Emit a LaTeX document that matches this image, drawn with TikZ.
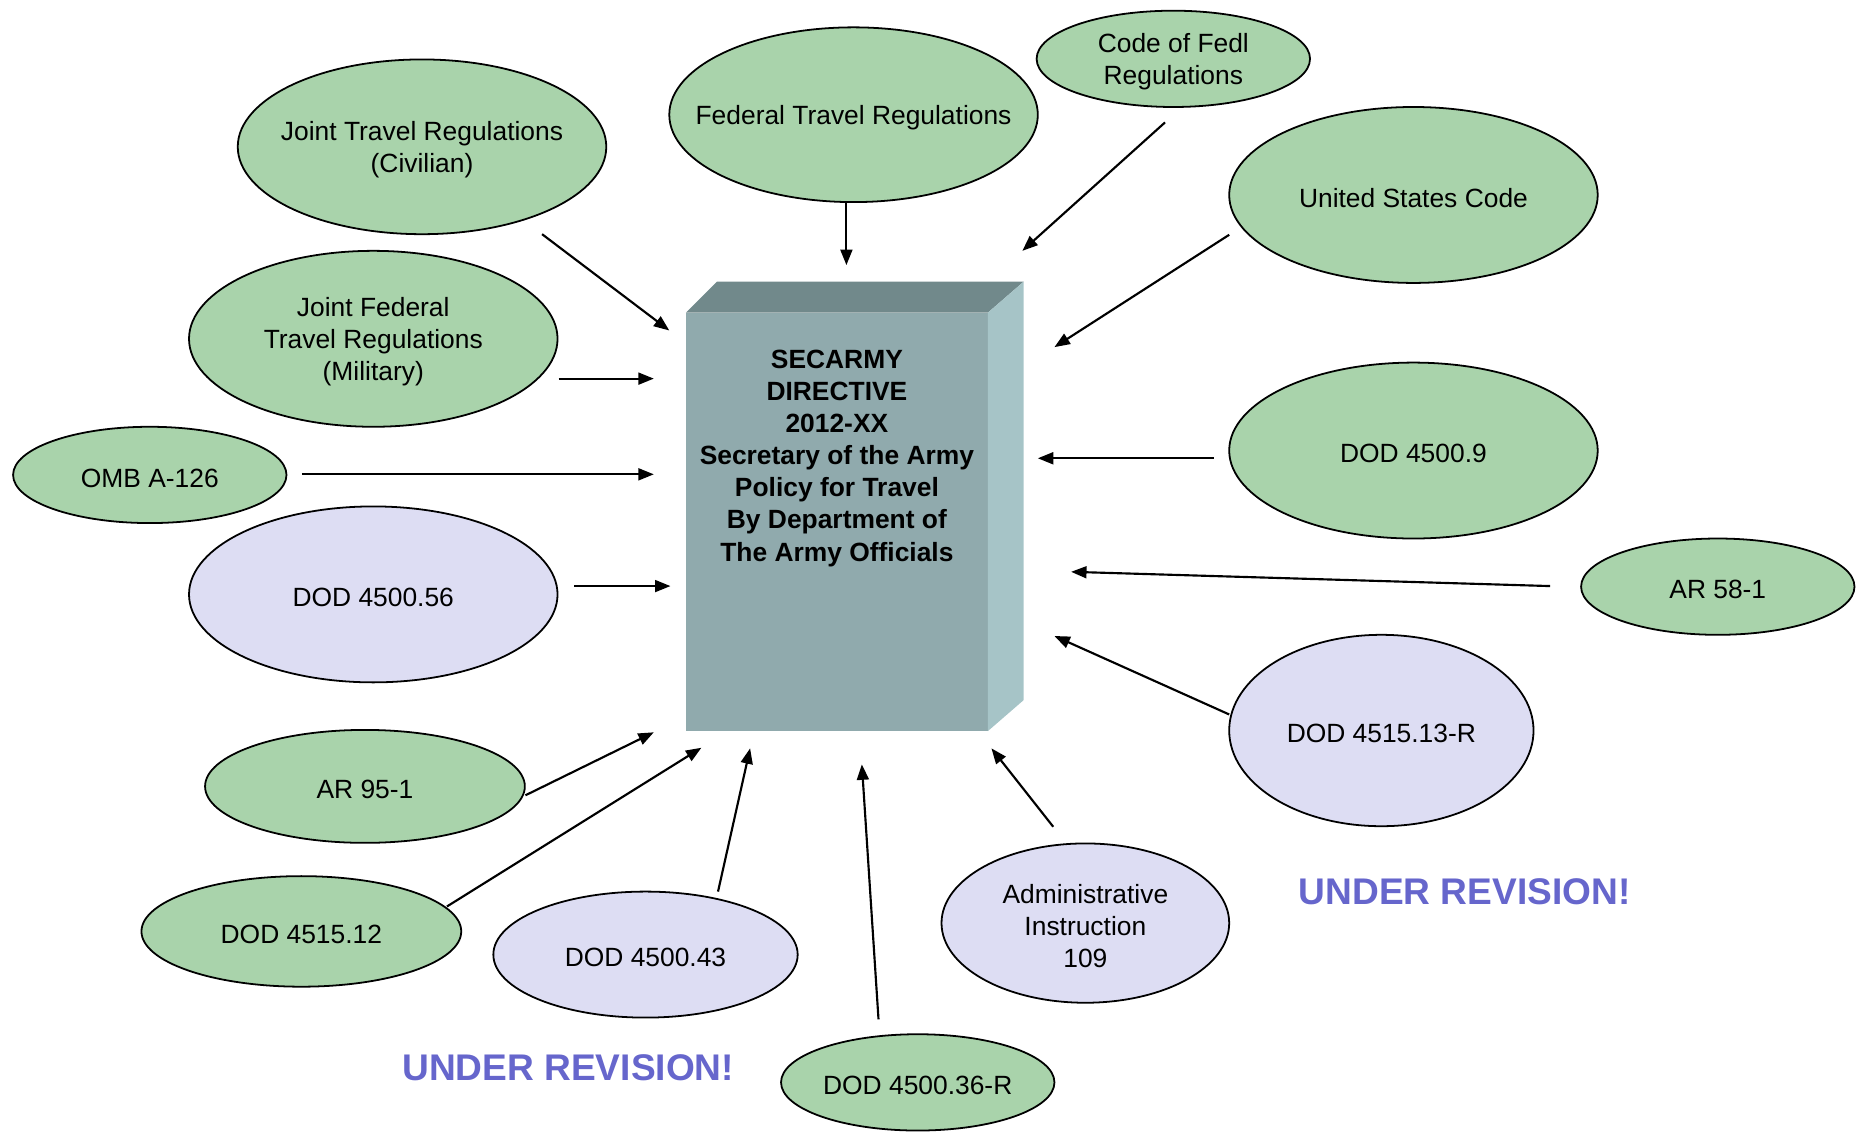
\documentclass[tikz,border=0pt]{standalone}
\usepackage{fontspec}
\setmainfont{Liberation Sans}
\usetikzlibrary{shapes.geometric,arrows.meta,calc}
\definecolor{greenfill}{HTML}{A9D3AB}
\definecolor{lavfill}{HTML}{DDDDF3}
\definecolor{revblue}{HTML}{6666CC}
\definecolor{frontc}{HTML}{90AAAD}
\definecolor{topc}{HTML}{71898B}
\definecolor{sidec}{HTML}{A6C4C7}
\begin{document}
\begin{tikzpicture}[x=0.5pt,y=-0.5pt,
  txt/.style={align=center,font=\fontsize{11.1}{13.5}\selectfont,inner sep=0pt,yshift=-1.3pt},
  ell/.style={ellipse,draw=black,line width=0.75pt,inner sep=0pt,outer sep=0pt,label={[txt]center:#1}},
  grn/.style={ell=#1,fill=greenfill},
  lav/.style={ell=#1,fill=lavfill},
  arr/.style={-{Triangle[length=6.5pt,width=5pt]},line width=0.9pt},
  rev/.style={font=\fontsize{15.6}{18}\selectfont\bfseries,text=revblue}
]
\useasboundingbox (0,0) rectangle (1568,958);

% central box
\fill[frontc] (577,263) rectangle (831,615);
\fill[topc] (577,263) -- (603,237) -- (861,237) -- (831,263) -- cycle;
\fill[sidec] (831,263) -- (861,237) -- (861,589) -- (831,615) -- cycle;
\node[font=\fontsize{11.1}{13.5}\selectfont\bfseries,align=center] (title) at (704,385.5)
  {SECARMY\\DIRECTIVE\\2012-XX\\Secretary of the Army\\Policy for Travel\\By Department of\\The Army Officials};

% ellipses
\node[grn={Joint Travel Regulations\\(Civilian)},minimum width=155pt,minimum height=73.5pt] (jtrc) at (355,123.5) {};
\node[grn={Federal Travel Regulations},minimum width=155pt,minimum height=73.5pt] (ftr) at (718,96.5) {};
\node[grn={Code of Fedl\\Regulations},minimum width=115pt,minimum height=40.5pt] (cfr) at (987,49.5) {};
\node[grn={United States Code},minimum width=155pt,minimum height=74pt] (usc) at (1189,164) {};
\node[grn={Joint Federal\\Travel Regulations\\(Military)},minimum width=155pt,minimum height=74pt] (jftr) at (314,285) {};
\node[grn={OMB A-126},minimum width=115pt,minimum height=40.5pt] (omb) at (126,399.5) {};
\node[lav={DOD 4500.56},minimum width=155pt,minimum height=74pt] (d56) at (314,500) {};
\node[grn={DOD 4500.9},minimum width=155pt,minimum height=74pt] (d9) at (1189,379) {};
\node[grn={AR 58-1},minimum width=115pt,minimum height=40.5pt] (ar58) at (1445,493.5) {};
\node[lav={DOD 4515.13-R},minimum width=128pt,minimum height=80.5pt] (d13r) at (1162,614.5) {};
\node[grn={AR 95-1},minimum width=134.5pt,minimum height=47.5pt] (ar95) at (307,661.5) {};
\node[grn={DOD 4515.12},minimum width=134.5pt,minimum height=46.5pt] (d12) at (253.5,783.5) {};
\node[lav={DOD 4500.43},minimum width=128pt,minimum height=53pt] (d43) at (543,803) {};
\node[lav={Administrative\\Instruction\\109},minimum width=121pt,minimum height=67pt] (ai) at (913,776.5) {};
\node[grn={DOD 4500.36-R},minimum width=115pt,minimum height=40.5pt] (d36) at (772,910.5) {};

% labels
\node[rev] (rev1) at (478,898) {UNDER REVISION!};
\node[rev] (rev2) at (1232,750) {UNDER REVISION!};

% arrow ends near the box
\coordinate (ea) at (563,278);
\coordinate (eb) at (712,223);
\coordinate (ec) at (860,211);
\coordinate (ed) at (887,292);
\coordinate (ee) at (550,318.5);
\coordinate (ef) at (550,399);
\coordinate (eg) at (564,493);
\coordinate (eh) at (873,385.5);
\coordinate (ei) at (901,481);
\coordinate (ej) at (887,535);
\coordinate (ek) at (550,616);
\coordinate (el) at (590,629);
\coordinate (em) at (631,629.5);
\coordinate (en) at (725,643);
\coordinate (eo) at (834,629.5);

% arrows
\draw[arr] ($(jtrc)+(101,73.5)$) -- (ea);
\draw[arr] ($(ftr)+(-6,73.5)$) -- (eb);
\draw[arr] ($(cfr)+(-7,53.5)$) -- (ec);
\draw[arr] ($(usc)+(-155,33.5)$) -- (ed);
\draw[arr] ($(jftr)+(156,33.5)$) -- (ee);
\draw[arr] ($(omb)+(128,-0.5)$) -- (ef);
\draw[arr] ($(d56)+(169,-7)$) -- (eg);
\draw[arr] ($(d9)+(-168,6.5)$) -- (eh);
\draw[arr] ($(ar58)+(-141,-0.5)$) -- (ei);
\draw[arr] ($(d13r)+(-128,-13.5)$) -- (ej);
\draw[arr] ($(ar95)+(135,7.5)$) -- (ek);
\draw[arr] ($(d12)+(122.5,-21)$) -- (el);
\draw[arr] ($(d43)+(61,-53)$) -- (em);
\draw[arr] ($(d36)+(-33,-53)$) -- (en);
\draw[arr] ($(ai)+(-27,-81)$) -- (eo);
\end{tikzpicture}
\end{document}
